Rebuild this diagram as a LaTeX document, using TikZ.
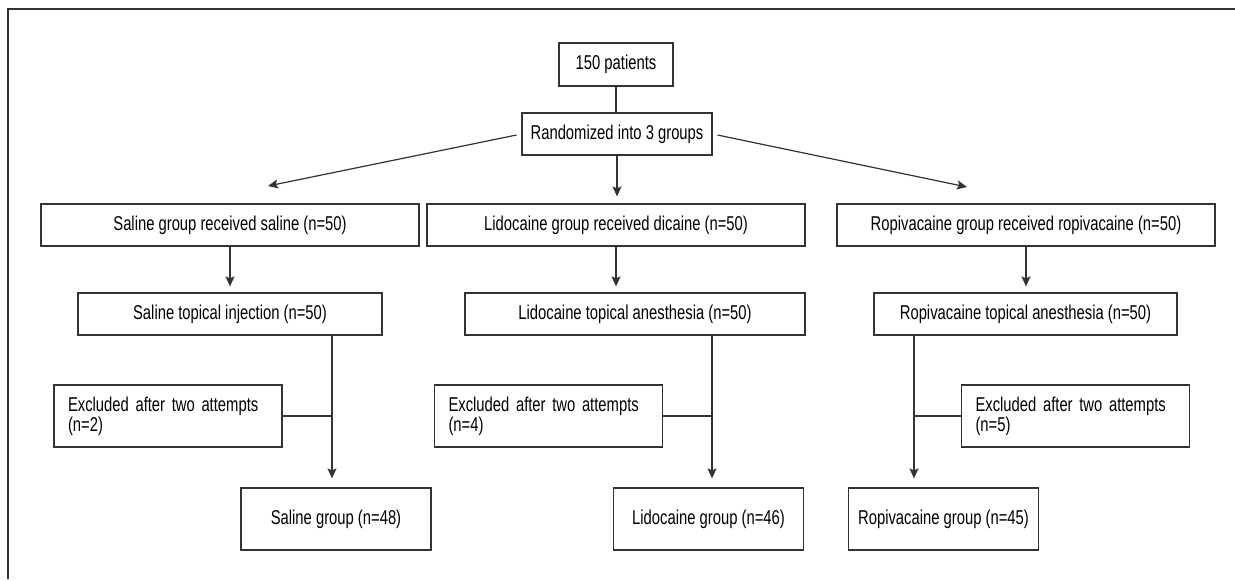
\documentclass[tikz,border=0pt]{standalone}
\usepackage{fontspec}
\setmainfont{Liberation Sans}[FakeStretch=0.74]
\usepackage{tikz}
\usetikzlibrary{arrows.meta, positioning}
\usepackage{xcolor}
\definecolor{linegray}{RGB}{51,51,51}
\tikzstyle{box} = [rectangle, minimum height=21pt, inner sep=0pt, text centered, draw=linegray, line width=0.6pt, font=\fontsize{10pt}{10pt}\selectfont]
\tikzstyle{exclbox} = [box, minimum width=114pt, minimum height=31pt, text width=100pt, align=left]
\tikzstyle{endbox} = [box, minimum width=95pt, minimum height=31pt]
\tikzstyle{link} = [draw=linegray, line width=0.6pt]
\tikzstyle{arrow} = [link, -{Stealth[length=5pt, width=4.5pt, inset=1pt]}]
\tikzstyle{frame} = [draw=linegray, line width=0.7pt]

\begin{document}
\begin{tikzpicture}[x=0.5pt, y=-0.5pt]
\useasboundingbox (0,0) rectangle (1235,579);
\draw [frame] (1235,9) -- (8,9) -- (8,579);

% Enrolment and randomisation
\node (patients) [box, minimum width=57pt, minimum height=21.5pt] at (616,64.5) {150 patients};
\node (random) [box, minimum width=95pt] at (617,134) {Randomized into 3 groups};

% Allocation
\node (salA) [box, minimum width=189pt] at (230,225) {Saline group received saline (n=50)};
\node (lidA) [box, minimum width=189pt] at (616,225) {Lidocaine group received dicaine (n=50)};
\node (ropA) [box, minimum width=189pt] at (1026,225) {Ropivacaine group received ropivacaine (n=50)};

% Anaesthesia
\node (salB) [box, minimum width=152pt] at (230,314) {Saline topical injection (n=50)};
\node (lidB) [box, minimum width=170pt] at (635,314) {Lidocaine topical anesthesia (n=50)};
\node (ropB) [box, minimum width=151.5pt] at (1025.5,314) {Ropivacaine topical anesthesia (n=50)};

% Exclusions
\node (salX) [exclbox] at (168,416) {Excluded after two attempts\\(n=2)};
\node (lidX) [exclbox] at (548.5,416) {Excluded after two attempts\\(n=4)};
\node (ropX) [exclbox] at (1075.5,416) {Excluded after two attempts\\(n=5)};

% Analysed groups
\node (salC) [endbox] at (336,519) {Saline group (n=48)};
\node (lidC) [endbox] at (708.5,519) {Lidocaine group (n=46)};
\node (ropC) [endbox] at (943.5,519) {Ropivacaine group (n=45)};

% Free ends of the slanted arrows and the vertical drops
\coordinate (leftTip) at (268,186);
\coordinate (rightTip) at (967,187);
\coordinate (salV) at (332,335);
\coordinate (lidV) at (712,335);
\coordinate (ropV) at (914,335);

% Flows
\draw [link] (patients.south) -- (patients.south |- random.north);
\draw [arrow, shorten <=2.5pt] (random.west) -- (leftTip);
\draw [arrow, shorten <=2.5pt] (random.east) -- (rightTip);
\draw [arrow, shorten >=3.5pt] (random.south) -- (random.south |- lidA.north);

\draw [arrow, shorten >=3pt] (salA.south) -- (salA.south |- salB.north);
\draw [arrow, shorten >=3pt] (lidA.south) -- (lidA.south |- lidB.north);
\draw [arrow, shorten >=3pt] (ropA.south) -- (ropA.south |- ropB.north);

\draw [arrow, shorten >=4.5pt] (salV) -- (salV |- salC.north);
\draw [arrow, shorten >=4.5pt] (lidV) -- (lidV |- lidC.north);
\draw [arrow, shorten >=4.5pt] (ropV) -- (ropV |- ropC.north);

\draw [link] (salX.east) -- (salX.east -| salV);
\draw [link] (lidX.east) -- (lidX.east -| lidV);
\draw [link] (ropX.west) -- (ropX.west -| ropV);

\end{tikzpicture}
\end{document}
